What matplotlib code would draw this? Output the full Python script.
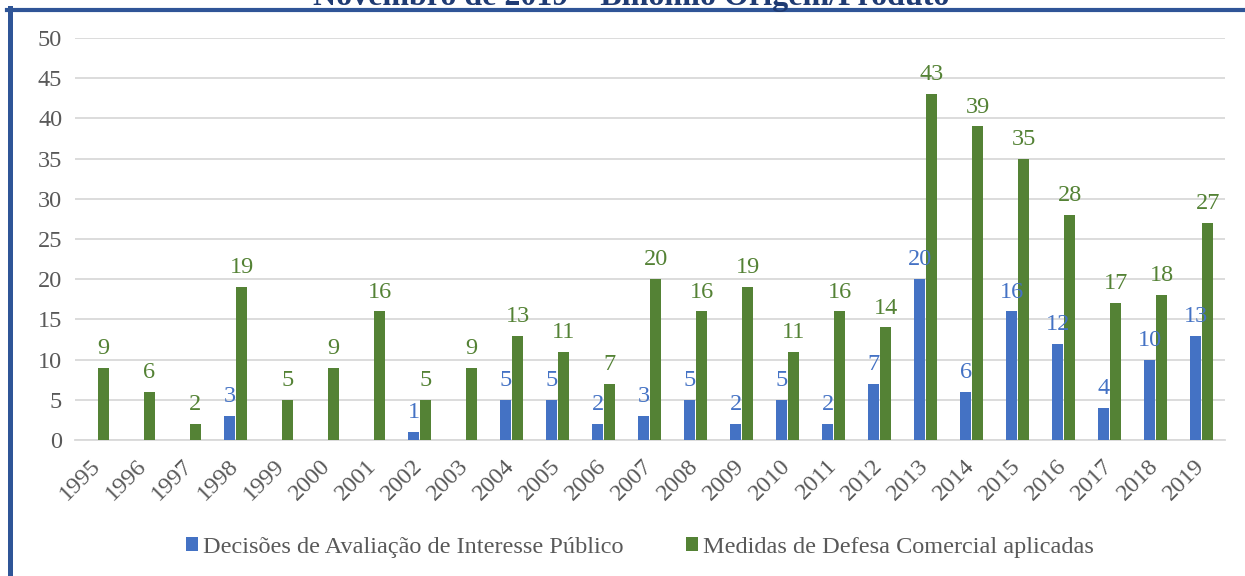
import matplotlib.pyplot as plt
import numpy as np
from matplotlib.lines import Line2D
from matplotlib.transforms import ScaledTranslation

years = [str(y) for y in range(1995, 2020)]
decisoes = [0, 0, 0, 3, 0, 0, 0, 1, 0, 5, 5, 2, 3, 5, 2, 5, 2, 7, 20, 6, 16, 12, 4, 10, 13]
medidas = [9, 6, 2, 19, 5, 9, 16, 5, 9, 13, 11, 7, 20, 16, 19, 11, 16, 14, 43, 39, 35, 28, 17, 18, 27]
labels = ['Decisões de Avaliação de Interesse Público', 'Medidas de Defesa Comercial aplicadas']
title = 'Novembro de 2019 – Binômio Origem/Produto'

blue = '#4472C4'
green = '#548235'
gray = '#595959'
fs = 17.5

plt.rcParams['font.family'] = ['Liberation Serif', 'DejaVu Serif']

fig = plt.figure(figsize=(12.45, 5.76), dpi=100)
ax = fig.add_axes([0.060, 0.236, 0.924, 0.698])

x = np.arange(len(years))
w = 0.24
b1 = ax.bar(x - 0.135, decisoes, w, color=blue, label=labels[0], zorder=3)
b2 = ax.bar(x + 0.125, medidas, w, color=green, label=labels[1], zorder=3)

# data labels (zero values are not labelled)
for rects, vals, col in [(b1, decisoes, blue), (b2, medidas, green)]:
    for r, v in zip(rects, vals):
        if v == 0:
            continue
        ax.annotate(str(v), (r.get_x() + r.get_width() / 2, v),
                    xytext=(0, 10), textcoords='offset points',
                    ha='center', va='baseline', fontsize=fs, color=col)

ax.set_xlim(-0.5, len(years) - 0.5)
ax.set_ylim(0, 50)
ax.set_yticks(range(0, 51, 5))
ax.set_xticks(x)
ax.set_xticklabels(years, rotation=45, ha='right', va='top', rotation_mode='anchor')
ax.tick_params(axis='both', length=0, labelsize=fs, labelcolor=gray)
ax.tick_params(axis='x', pad=11)
ax.tick_params(axis='y', pad=9)
shift = ScaledTranslation(-8 / 100, 0, fig.dpi_scale_trans)
for t in ax.get_xticklabels():
    t.set_transform(t.get_transform() + shift)

ax.grid(axis='y', color='#D9D9D9', lw=1.3, zorder=0)
for s in ['top', 'right', 'left']:
    ax.spines[s].set_visible(False)
ax.spines['bottom'].set_color('#D9D9D9')
ax.spines['bottom'].set_linewidth(1.3)

fig.legend(loc='center', bbox_to_anchor=(0.514, 0.05), ncol=2, frameon=False,
           fontsize=fs, labelcolor=gray, handlelength=0.5, handleheight=0.5,
           handletextpad=0.2, columnspacing=2.6)

# frame of the original document box
fig.add_artist(Line2D([7 / 1245, 1], [1 - 10 / 576, 1 - 10 / 576], color='#2F5597', lw=3))
fig.add_artist(Line2D([9.5 / 1245, 9.5 / 1245], [0, 1 - 8 / 576], color='#2F5597', lw=3.6))

fig.text(0.507, 1 - 5 / 576, title, ha='center', va='baseline', fontsize=23,
         fontweight='bold', color='#1F3B73')

fig.savefig('out.png', dpi=100)
